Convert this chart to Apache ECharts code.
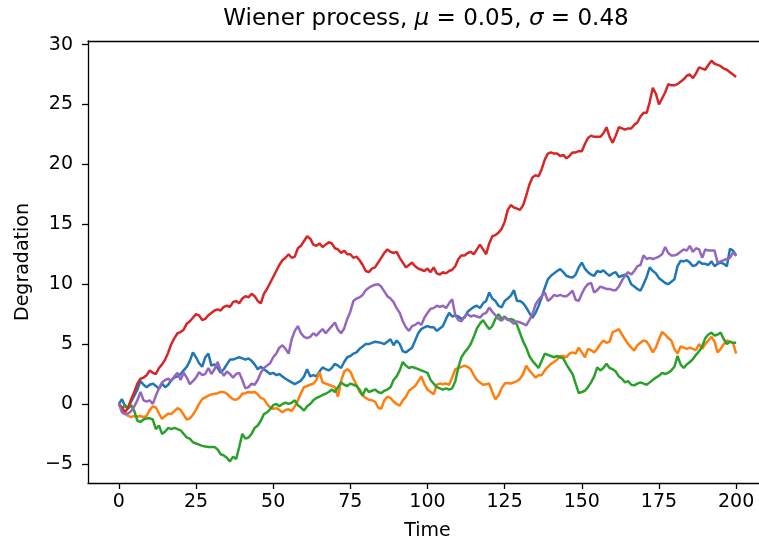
<!DOCTYPE html>
<html>
<head>
<meta charset="utf-8">
<script src="https://cdn.jsdelivr.net/npm/echarts@6/dist/echarts.min.js"></script>
<style>
  html, body { margin: 0; padding: 0; background: #ffffff; }
  #chart { width: 759px; height: 544px; }
</style>
</head>
<body>
<div id="chart"></div>
<script>
// Five simulated Wiener degradation paths, one value per time step (t = 0..200)
const pathBlue = [
  0,0.4,-0.2,-0.3,0.2,0.7,1.2,1.9,1.6,1.4,
  1.6,1.7,1.5,1.25,1.7,1.4,1.6,2.0,2.2,2.3,
  2.5,2.8,3.1,3.6,4.3,3.9,3.4,3.1,3.9,4.2,
  3.2,3.3,3.0,2.6,2.9,3.3,3.7,3.7,3.8,3.9,
  3.8,3.7,3.8,3.6,3.3,2.9,3.1,2.9,2.7,2.5,
  2.6,2.4,2.5,2.3,2.1,1.95,1.8,1.65,1.8,1.95,
  2.3,2.9,2.3,2.4,2.3,2.7,3.05,2.9,2.8,3.0,
  3.35,3.2,3.0,3.5,3.9,4.0,4.2,4.3,4.6,4.8,
  5.0,5.0,5.1,5.2,5.15,5.1,5.0,5.2,5.4,4.9,
  5.3,5.0,4.4,4.3,4.5,4.7,5.3,5.9,6.25,6.4,
  6.5,6.4,6.4,6.1,6.3,6.5,7.1,7.6,7.3,7.4,
  7.3,7.1,7.2,7.7,7.9,8.1,8.2,8.0,8.4,8.6,
  9.3,8.8,8.6,8.2,8.05,8.6,8.8,9.05,9.5,8.6,
  8.6,8.4,8.05,7.6,7.2,7.6,8.2,8.9,9.7,10.4,
  10.7,10.9,11.1,11.25,11.0,10.7,10.6,10.55,10.8,11.4,
  11.8,11.3,11.0,10.8,10.7,11.1,11.0,11.15,10.9,10.7,
  10.9,11.0,10.6,10.7,10.8,10.6,10.0,9.8,9.6,9.45,
  10.0,10.6,11.4,11.1,10.9,10.5,10.3,10.1,10.0,10.2,
  10.4,11.5,11.95,11.9,12.0,11.8,11.5,11.6,11.9,11.7,
  11.7,11.6,11.9,11.5,11.7,11.8,11.7,11.5,12.95,12.8,
  12.4
];
const pathOrange = [
  0,-0.4,-0.8,-1.0,-1.1,-1.0,-1.05,-1.0,-1.1,-1.0,
  -0.5,-0.2,-0.3,-0.8,-1.25,-1.0,-0.8,-0.85,-0.6,-0.35,
  -0.5,-0.9,-1.3,-1.2,-0.9,-0.5,0.0,0.4,0.55,0.7,
  0.8,0.85,0.9,1.0,1.0,0.85,0.6,0.4,0.35,0.5,
  0.85,0.9,1.0,0.95,1.0,0.8,0.5,0.4,0.0,-0.3,
  -0.4,-0.35,-0.5,-0.7,-0.5,-0.45,-0.6,-0.2,0.3,0.9,
  1.4,1.5,1.6,1.7,2.0,2.65,1.8,1.7,1.6,1.5,
  1.4,0.6,1.9,2.7,2.9,2.7,2.1,1.6,1.0,0.7,
  0.5,0.35,0.3,0.2,-0.3,-0.4,0.3,0.6,0.5,0.2,
  0.0,-0.15,0.3,0.6,1.1,1.3,1.5,1.9,2.3,1.65,
  1.2,1.0,0.8,1.6,1.7,1.65,1.7,1.6,2.2,2.9,
  3.0,3.1,3.2,3.1,2.9,2.4,2.0,1.8,1.6,1.65,
  1.7,1.0,0.4,0.7,1.3,1.7,1.75,1.7,1.8,1.9,
  2.1,2.5,3.2,2.8,2.5,2.2,2.4,2.4,2.8,3.1,
  3.35,3.5,3.7,4.0,4.0,3.9,4.2,4.3,4.2,4.7,
  4.3,3.9,4.6,4.5,4.3,4.6,5.0,5.3,5.1,5.2,
  6.0,6.1,6.25,5.8,5.4,5.0,4.7,4.45,4.9,5.1,
  5.3,5.2,4.8,4.3,4.7,5.4,6.0,5.8,5.5,5.3,
  4.6,4.2,4.8,4.7,4.6,4.7,4.6,4.5,5.0,4.6,
  5.0,5.3,5.6,5.2,4.3,4.6,5.0,5.3,5.2,5.1,
  4.2
];
const pathGreen = [
  0,-0.4,-0.1,-0.4,-0.1,-0.6,-1.4,-1.5,-1.3,-1.2,
  -1.2,-1.3,-2.1,-1.8,-2.5,-2.3,-2.0,-2.1,-2.0,-2.1,
  -2.2,-2.5,-2.8,-2.9,-3.2,-3.3,-3.4,-3.5,-3.55,-3.6,
  -3.6,-3.6,-3.8,-4.2,-4.3,-4.5,-4.8,-4.4,-4.6,-3.6,
  -2.5,-2.9,-2.8,-2.5,-2.0,-1.8,-1.4,-0.85,-0.7,-0.45,
  -0.1,0.0,-0.2,0.0,0.1,0.0,0.1,0.3,-0.1,-0.3,
  -0.55,-0.2,0.0,0.3,0.5,0.6,0.75,0.85,1.0,1.2,
  1.0,1.4,1.8,1.6,1.5,1.7,1.6,1.5,1.2,0.7,
  1.3,1.0,1.1,1.2,1.0,0.9,1.1,1.2,1.4,2.0,
  2.3,2.8,3.5,3.2,3.0,3.1,3.0,2.9,2.8,2.7,
  2.6,2.0,1.7,1.4,1.3,1.2,1.3,1.2,1.3,1.9,
  3.05,3.9,4.3,4.6,5.0,5.6,6.3,6.7,7.0,6.6,
  6.25,6.5,7.1,7.5,7.1,7.3,7.0,7.1,7.0,6.6,
  5.9,5.2,4.7,4.0,3.6,3.3,3.0,3.6,4.2,4.1,
  4.0,3.9,4.0,3.9,3.8,3.3,2.9,2.5,1.7,0.9,
  1.0,1.1,1.4,1.8,2.3,3.05,2.8,3.0,3.35,3.0,
  2.9,2.7,2.3,2.1,1.8,1.9,1.6,1.55,1.7,1.8,
  1.7,1.6,1.8,2.0,2.2,2.35,2.6,2.5,2.6,2.8,
  3.1,4.0,3.3,3.0,3.3,3.5,3.75,4.1,4.4,4.8,
  5.5,5.8,5.95,5.7,5.8,5.95,5.4,5.0,5.2,5.1,
  5.1
];
const pathRed = [
  0,-0.3,-0.7,-0.3,0.4,1.0,1.7,2.1,2.2,2.4,
  2.8,2.6,2.5,3.0,3.3,3.7,4.3,5.0,5.5,5.9,
  6.0,6.2,6.7,6.9,7.2,7.5,7.4,7.0,7.1,7.4,
  7.6,7.8,7.9,7.8,8.1,8.2,8.1,8.5,8.6,8.4,
  8.8,9.0,8.9,9.2,9.0,8.6,8.4,9.2,9.6,10.1,
  10.6,11.1,11.6,12.0,12.2,12.5,12.2,12.3,13.0,13.2,
  13.6,14.0,13.8,13.3,13.2,13.4,13.1,13.3,13.5,13.4,
  13.0,12.9,12.6,12.8,12.5,12.5,12.2,12.3,12.0,11.6,
  11.1,11.0,11.3,11.4,11.8,12.2,12.6,12.9,12.7,12.6,
  12.7,12.2,11.8,11.4,11.6,11.8,11.5,11.3,11.2,11.1,
  11.3,11.0,11.4,10.9,10.8,11.0,10.9,11.1,11.2,11.5,
  12.1,12.4,12.4,12.6,12.7,12.5,12.9,13.3,12.9,12.5,
  13.4,14.0,14.1,14.3,14.6,15.2,16.2,16.6,16.4,16.3,
  16.2,16.6,17.4,18.3,18.9,19.1,19.0,19.6,20.4,20.9,
  21.0,20.9,20.9,20.7,20.8,20.5,20.7,21.0,21.0,21.1,
  21.1,21.7,22.2,22.4,22.3,22.3,22.3,22.6,23.1,22.3,
  21.8,22.4,23.1,23.0,22.9,23.0,23.0,23.3,23.5,24.0,
  24.3,24.3,25.2,26.4,25.9,25.0,25.5,26.0,26.7,26.6,
  26.6,26.7,26.9,27.1,27.4,27.5,27.2,27.6,28.1,28.0,
  27.9,28.3,28.65,28.4,28.3,28.2,28.0,27.9,27.7,27.5,
  27.3
];
const pathPurple = [
  0,-0.7,-0.85,-0.8,-0.6,-0.2,0.3,1.0,0.3,0.2,
  0.3,0.0,0.7,1.3,1.8,2.0,2.1,1.9,2.3,2.6,
  2.0,2.6,2.2,1.65,1.9,2.2,2.65,2.4,2.5,3.0,
  2.5,2.9,3.5,2.8,2.35,2.7,2.5,2.2,2.5,2.6,
  2.0,1.3,1.4,1.7,1.6,2.0,2.6,3.0,3.2,3.4,
  3.9,4.2,4.7,4.9,4.6,4.2,5.4,6.1,6.5,5.9,
  5.6,5.5,5.6,5.9,5.7,6.0,6.25,5.9,6.2,6.5,
  6.8,6.2,5.9,6.3,7.1,7.7,8.6,8.8,8.9,9.1,
  9.5,9.7,9.85,9.95,10.0,9.8,9.4,9.0,8.8,8.5,
  8.0,7.6,6.9,6.4,6.1,6.5,6.6,6.8,6.6,7.2,
  7.6,7.95,8.0,8.2,8.1,8.2,8.0,8.4,8.75,7.4,
  7.0,6.9,7.3,7.5,7.3,7.4,7.3,7.2,7.5,7.6,
  8.05,7.7,7.4,7.1,6.95,7.2,7.1,6.9,6.7,6.9,
  6.8,6.7,6.55,7.0,7.5,8.3,8.7,9.0,9.3,8.6,
  8.8,9.1,9.0,9.1,9.0,9.0,9.2,9.45,8.7,8.6,
  9.2,9.7,10.0,10.1,9.3,9.5,9.8,9.7,9.6,9.6,
  9.5,9.5,9.8,10.3,10.7,11.0,10.8,11.1,11.5,11.6,
  12.4,12.1,12.2,12.1,12.2,12.3,12.5,13.1,12.6,12.4,
  12.4,12.5,12.7,12.9,12.8,13.2,12.7,13.0,12.9,12.2,
  12.9,12.8,12.8,12.8,11.8,11.9,12.0,12.1,12.2,12.65,
  12.35
];

const xTicks = [0, 25, 50, 75, 100, 125, 150, 175, 200];
const yTicks = [-5, 0, 5, 10, 15, 20, 25, 30];

const paths = [
  { values: pathBlue,   color: '#1f77b4' },
  { values: pathOrange, color: '#ff7f0e' },
  { values: pathGreen,  color: '#2ca02c' },
  { values: pathRed,    color: '#d62728' },
  { values: pathPurple, color: '#9467bd' }
];

const FONT = '"DejaVu Sans", sans-serif';
const minusFmt = v => String(v).replace('-', '\u2212');
const X_MIN = -10, X_MAX = 210;   // the axes box extends past the right edge of the canvas
const spine = { color: '#000', width: 1.3 };

const chart = echarts.init(document.getElementById('chart'), null, { renderer: 'canvas' });

chart.setOption({
  animation: false,
  backgroundColor: '#ffffff',
  grid: {
    left: 88, top: 41, width: 679, height: 442,
    show: false, containLabel: false, outerBoundsMode: 'none'
  },
  graphic: [{
    type: 'text',
    x: 426, y: 19,
    style: {
      text: '{r|Wiener process, }{i|μ}{r| = 0.05, }{i|σ}{r| = 0.48}',
      align: 'center', verticalAlign: 'middle',
      rich: {
        r: { fontFamily: FONT, fontSize: 23, fill: '#000' },
        i: { fontFamily: FONT, fontSize: 23, fontStyle: 'italic', fill: '#000' }
      }
    }
  }],
  xAxis: [{
    type: 'value', min: X_MIN, max: X_MAX, position: 'bottom',
    name: 'Time', nameLocation: 'middle', nameGap: 39,
    nameTextStyle: { fontFamily: FONT, fontSize: 19, color: '#000' },
    axisLine: { show: true, onZero: false, lineStyle: spine },
    axisTick: { show: true, length: 6, customValues: xTicks, lineStyle: spine },
    axisLabel: { customValues: xTicks, margin: 10, fontFamily: FONT, fontSize: 19, color: '#000', formatter: minusFmt },
    splitLine: { show: false }
  }, {
    type: 'value', min: X_MIN, max: X_MAX, position: 'top',
    axisLine: { show: true, onZero: false, lineStyle: spine },
    axisTick: { show: false }, axisLabel: { show: false }, splitLine: { show: false }
  }],
  yAxis: [{
    type: 'value', min: -6.6, max: 30.3, position: 'left',
    name: 'Degradation', nameLocation: 'middle', nameGap: 55,
    nameTextStyle: { fontFamily: FONT, fontSize: 19, color: '#000' },
    axisLine: { show: true, onZero: false, lineStyle: spine },
    axisTick: { show: true, length: 6, customValues: yTicks, lineStyle: spine },
    axisLabel: { customValues: yTicks, margin: 15, fontFamily: FONT, fontSize: 19, color: '#000', formatter: minusFmt },
    splitLine: { show: false }
  }, {
    type: 'value', min: -6.6, max: 30.3, position: 'right',
    axisLine: { show: true, onZero: false, lineStyle: spine },
    axisTick: { show: false }, axisLabel: { show: false }, splitLine: { show: false }
  }],
  series: paths.map(p => ({
    type: 'line',
    xAxisIndex: 0,
    yAxisIndex: 0,
    data: p.values.map((v, t) => [t, v]),
    showSymbol: false,
    lineStyle: { color: p.color, width: 2.5 },
    itemStyle: { color: p.color },
    clip: true
  }))
});
</script>
</body>
</html>
